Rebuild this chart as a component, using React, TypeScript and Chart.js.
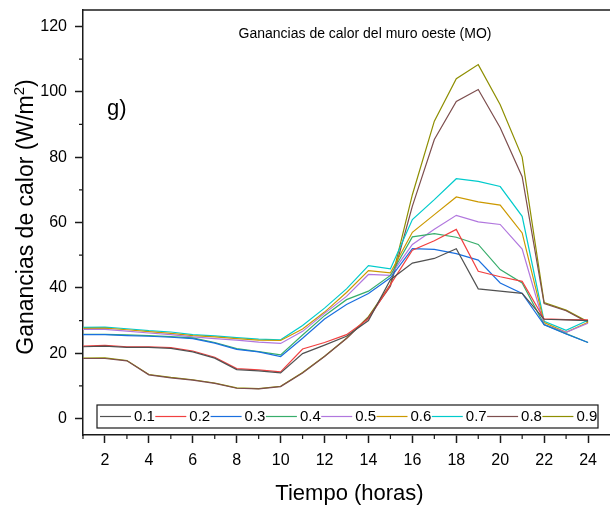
import React, { useEffect, useRef } from "react";
import { Chart, registerables } from "chart.js";

Chart.register(...registerables);

const FONT = "'Liberation Sans', Arial, sans-serif";
const AXIS = "#1a1a1a";

const hours = [1, 2, 3, 4, 5, 6, 7, 8, 9, 10, 11, 12, 13, 14, 15, 16, 17, 18, 19, 20, 21, 22, 23, 24];
const xTicks = [2, 4, 6, 8, 10, 12, 14, 16, 18, 20, 22, 24];
const xMinor = [1, 3, 5, 7, 9, 11, 13, 15, 17, 19, 21, 23];
const yTicks = [0, 20, 40, 60, 80, 100, 120];
const yMinor = [10, 30, 50, 70, 90, 110];

const seriesLabels = ["0.1", "0.2", "0.3", "0.4", "0.5", "0.6", "0.7", "0.8", "0.9"];
const seriesColors = ["#515151", "#F14040", "#1A6FDF", "#37AD6B", "#B177DE", "#CC9900", "#00CBCC", "#7D4E4E", "#8E8E00"];

const s01 = [22.0, 22.2, 21.8, 21.8, 21.5, 20.4, 18.5, 15.0, 14.6, 14.0, 19.9, 22.5, 25.2, 30.0, 42.5, 47.6, 49.0, 52.0, 39.7, 39.0, 38.3, 30.4, 30.2, 30.0];
const s02 = [22.2, 22.4, 22.0, 22.0, 21.7, 20.7, 18.8, 15.3, 14.9, 14.3, 21.3, 23.3, 25.7, 30.5, 41.0, 51.5, 54.4, 57.9, 45.1, 43.4, 42.0, 30.5, 30.3, 30.2];
const s03 = [25.7, 25.7, 25.4, 25.2, 24.9, 24.5, 23.1, 21.2, 20.4, 19.0, 24.6, 30.5, 34.9, 38.3, 43.1, 52.0, 51.8, 50.5, 48.5, 41.5, 38.3, 28.7, 25.9, 23.3];
const s04 = [25.8, 25.8, 25.6, 25.4, 25.1, 24.7, 23.3, 21.4, 20.5, 19.5, 25.6, 31.5, 36.4, 39.0, 43.8, 55.6, 56.6, 55.5, 53.3, 45.6, 41.5, 28.8, 26.0, 23.3];
const s05 = [27.3, 27.3, 26.8, 26.2, 25.7, 25.0, 24.5, 24.0, 23.4, 23.0, 26.7, 32.2, 37.4, 44.1, 43.8, 53.3, 57.9, 62.2, 60.2, 59.4, 51.9, 28.8, 26.4, 29.2];
const s06 = [27.6, 27.7, 27.2, 26.6, 26.1, 25.4, 25.0, 24.5, 24.0, 23.9, 27.4, 32.6, 38.6, 45.3, 44.6, 57.0, 62.4, 67.8, 66.3, 65.3, 56.8, 29.4, 26.4, 29.5];
const s07 = [27.9, 28.0, 27.5, 26.9, 26.5, 25.7, 25.3, 24.8, 24.3, 24.1, 28.5, 33.8, 39.7, 46.8, 45.8, 60.9, 67.0, 73.4, 72.6, 71.0, 61.9, 29.8, 27.0, 30.1];
const s08 = [18.4, 18.4, 17.7, 13.4, 12.5, 11.8, 10.8, 9.3, 9.1, 9.8, 14.0, 19.0, 24.5, 31.0, 40.5, 65.0, 85.4, 97.0, 100.7, 89.0, 74.0, 35.2, 33.0, 29.4];
const s09 = [18.5, 18.6, 17.8, 13.5, 12.6, 11.9, 10.9, 9.4, 9.2, 9.9, 14.1, 19.1, 24.6, 31.2, 41.0, 68.5, 91.0, 104.0, 108.3, 96.0, 80.0, 35.5, 33.2, 29.6];

const allSeries = [s01, s02, s03, s04, s05, s06, s07, s08, s09];

const TITLE = "Ganancias de calor del muro oeste (MO)";
const X_TITLE = "Tiempo (horas)";
const Y_TITLE_MAIN = "Ganancias de calor (W/m";
const Y_TITLE_SUP = "2";
const Y_TITLE_END = ")";
const PANEL = "g)";

const decor = {
  id: "decor",
  afterDraw(chart: any) {
    const { ctx, chartArea: a, scales } = chart;
    const xs = scales.x;
    const ys = scales.y;
    ctx.save();
    ctx.strokeStyle = AXIS;
    ctx.lineWidth = 1.5;
    // top frame
    ctx.beginPath();
    ctx.moveTo(a.left - 0.75, a.top);
    ctx.lineTo(a.right, a.top);
    ctx.stroke();
    // minor ticks
    ctx.lineWidth = 1.2;
    ctx.beginPath();
    xMinor.forEach((v) => {
      const px = xs.getPixelForValue(v);
      ctx.moveTo(px, a.bottom);
      ctx.lineTo(px, a.bottom + 4);
    });
    yMinor.forEach((v) => {
      const py = ys.getPixelForValue(v);
      ctx.moveTo(a.left, py);
      ctx.lineTo(a.left - 4, py);
    });
    ctx.stroke();

    ctx.fillStyle = "#000";
    // chart title
    ctx.font = `14px ${FONT}`;
    ctx.textAlign = "center";
    ctx.textBaseline = "middle";
    ctx.fillText(TITLE, 365, 34);
    // panel label
    ctx.font = `22px ${FONT}`;
    ctx.textAlign = "left";
    ctx.textBaseline = "alphabetic";
    ctx.fillText(PANEL, 107, 115);
    // x title
    ctx.textAlign = "center";
    ctx.fillText(X_TITLE, (a.left + a.right) / 2 + 3, 500);
    // y title
    const yf = 23;
    ctx.font = `${yf}px ${FONT}`;
    const w1 = ctx.measureText(Y_TITLE_MAIN).width;
    const w3 = ctx.measureText(Y_TITLE_END).width;
    ctx.font = `15px ${FONT}`;
    const w2 = ctx.measureText(Y_TITLE_SUP).width;
    const total = w1 + w2 + w3;
    ctx.translate(33, 217);
    ctx.rotate(-Math.PI / 2);
    ctx.textAlign = "left";
    ctx.font = `${yf}px ${FONT}`;
    ctx.fillText(Y_TITLE_MAIN, -total / 2, 0);
    ctx.font = `15px ${FONT}`;
    ctx.fillText(Y_TITLE_SUP, -total / 2 + w1, -9);
    ctx.font = `${yf}px ${FONT}`;
    ctx.fillText(Y_TITLE_END, -total / 2 + w1 + w2, 0);
    ctx.setTransform(1, 0, 0, 1, 0, 0);

    // legend
    const lx = 97, ly = 405, lw = 501, lh = 23;
    ctx.fillStyle = "#fff";
    ctx.fillRect(lx, ly, lw, lh);
    ctx.strokeStyle = AXIS;
    ctx.lineWidth = 1.2;
    ctx.strokeRect(lx, ly, lw, lh);
    ctx.font = `15px ${FONT}`;
    ctx.textBaseline = "middle";
    ctx.textAlign = "left";
    const cy = ly + lh / 2;
    seriesLabels.forEach((lab, i) => {
      const sx = 100 + i * 55.3;
      ctx.strokeStyle = seriesColors[i];
      ctx.lineWidth = 1.2;
      ctx.beginPath();
      ctx.moveTo(sx, cy);
      ctx.lineTo(sx + 31, cy);
      ctx.stroke();
      ctx.fillStyle = "#000";
      ctx.fillText(lab, sx + 34, cy + 0.5);
    });
    ctx.restore();
  },
};

export default function App() {
  const ref = useRef<HTMLCanvasElement>(null);
  useEffect(() => {
    const datasets = allSeries.map((s, i) => ({
      label: seriesLabels[i],
      data: s.map((v, j) => ({ x: hours[j], y: v })),
      borderColor: seriesColors[i],
      backgroundColor: seriesColors[i],
      borderWidth: 1.2,
      pointRadius: 0,
      fill: false,
      tension: 0,
    }));
    const tickFont = { family: FONT, size: 16 };
    const chart = new Chart(ref.current as HTMLCanvasElement, {
      type: "line",
      data: { datasets },
      options: {
        responsive: false,
        animation: false,
        layout: { padding: { top: 10, left: 0, right: 0, bottom: 0 } },
        plugins: { legend: { display: false }, tooltip: { enabled: false }, title: { display: false } },
        scales: {
          x: {
            type: "linear",
            min: 1,
            max: 25,
            afterFit: (s: any) => { s.height = 71; s.paddingLeft = 0; s.paddingRight = 0; },
            afterBuildTicks: (s: any) => { s.ticks = xTicks.map((v) => ({ value: v })); },
            grid: { drawOnChartArea: false, drawTicks: true, tickLength: 8, tickWidth: 1.5, tickColor: AXIS },
            border: { display: true, color: AXIS, width: 1.5 },
            ticks: { font: tickFont, color: "#000", padding: 8, maxRotation: 0, autoSkip: false },
          },
          y: {
            type: "linear",
            min: -5,
            max: 125,
            afterFit: (s: any) => { s.width = 83; s.paddingTop = 0; s.paddingBottom = 0; },
            afterBuildTicks: (s: any) => { s.ticks = yTicks.map((v) => ({ value: v })); },
            grid: { drawOnChartArea: false, drawTicks: true, tickLength: 8, tickWidth: 1.5, tickColor: AXIS },
            border: { display: true, color: AXIS, width: 1.5 },
            ticks: { font: tickFont, color: "#000", padding: 8, autoSkip: false },
          },
        },
      },
      plugins: [decor],
    } as any);
    return () => chart.destroy();
  }, []);
  return (
    <div style={{ position: "absolute", left: 0, top: 0, width: 610, height: 506, background: "#fff" }}>
      <canvas ref={ref} width={610} height={506} style={{ display: "block" }} />
    </div>
  );
}
